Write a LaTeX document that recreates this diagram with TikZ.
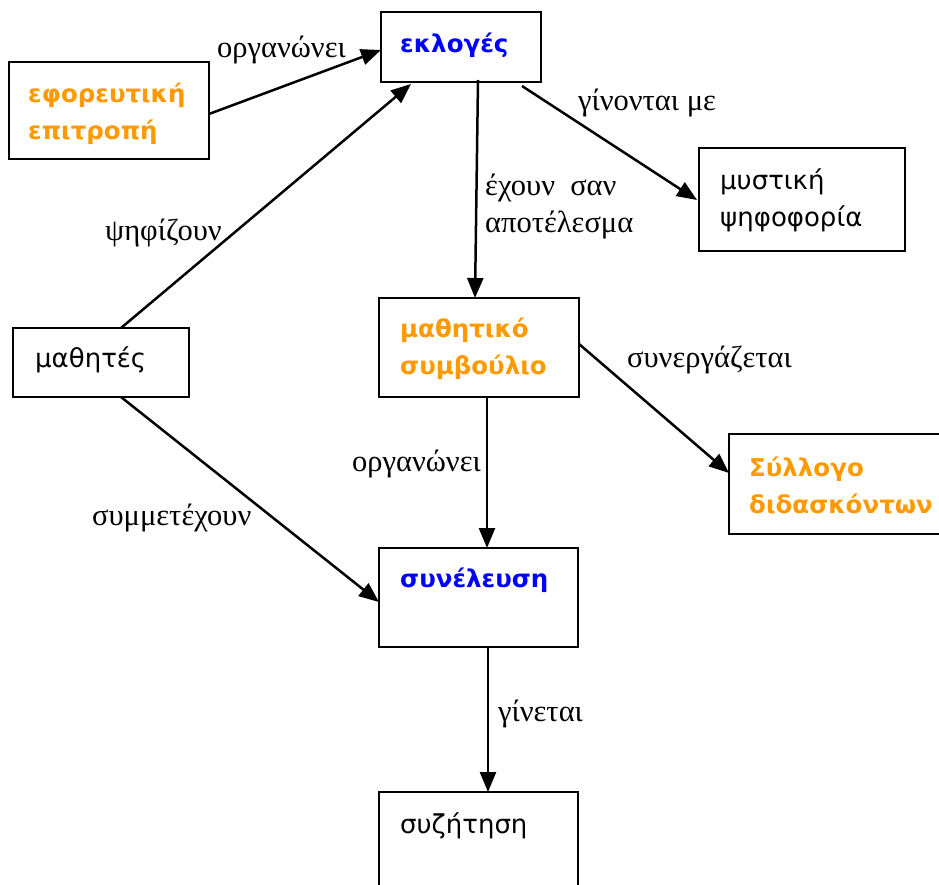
\documentclass[tikz,border=0pt]{standalone}
\usepackage{fontspec}
\setmainfont{Liberation Serif}
\newfontfamily\boxfont{DejaVu Sans}
\usetikzlibrary{arrows.meta}
\definecolor{orng}{RGB}{255,153,0}
\definecolor{blu}{RGB}{0,0,255}
\tikzset{
  box/.style={draw=black, line width=1.6pt, fill=white},
  btxt/.style={anchor=west, align=left, font=\boxfont\fontsize{26}{37}\selectfont, inner sep=0pt},
  otxt/.style={btxt, font=\boxfont\bfseries\fontsize{24.5}{37}\selectfont, text=orng},
  bltxt/.style={btxt, font=\boxfont\bfseries\fontsize{24.5}{37}\selectfont, text=blu},
  lbl/.style={anchor=west, align=left, font=\fontsize{30.5}{37}\selectfont, inner sep=0pt},
  arr/.style={line width=2.5pt, -{Triangle[length=20pt,width=16pt]}},
}
\begin{document}
\begin{tikzpicture}[x=1pt,y=-1pt]
\useasboundingbox (0,0) rectangle (939,885);
% boxes
\draw[box] (381,12) rectangle (541,82);
\draw[box] (9,62) rectangle (209,159);
\draw[box] (699,148) rectangle (905,251);
\draw[box] (13,328) rectangle (189,397);
\draw[box] (379,298) rectangle (579,397);
\draw[box] (729,434) rectangle (945,534);
\draw[box] (379,548) rectangle (578,647);
\draw[box] (379,792) rectangle (578,900);
% texts
\node[bltxt] (teklo) at (400,45) {εκλογές};
\node[otxt] (tefor) at (28,114) {εφορευτική\\επιτροπή};
\node[btxt] (tmyst) at (720,200) {μυστική\\ψηφοφορία};
\node[btxt] (tmath) at (35,360) {μαθητές};
\node[otxt] (tsymv) at (400,349) {μαθητικό\\συμβούλιο};
\node[otxt] (tsyll) at (749,485) {Σύλλογο\\διδασκόντων};
\node[bltxt] (tsyne) at (400,580) {συνέλευση};
\node[btxt] (tsyzi) at (400,826) {συζήτηση};
% connector endpoints
\coordinate (a1s) at (209,114); \coordinate (a1e) at (381,50);
\coordinate (a2s) at (121,328); \coordinate (a2e) at (411,84);
\coordinate (a3s) at (478,80);  \coordinate (a3e) at (475,298);
\coordinate (a4s) at (522,86);  \coordinate (a4e) at (697,200);
\coordinate (a5s) at (121,397); \coordinate (a5e) at (379,602);
\coordinate (a6s) at (487,397); \coordinate (a6e) at (487,548);
\coordinate (a7s) at (579,344); \coordinate (a7e) at (729,473);
\coordinate (a8s) at (488,647); \coordinate (a8e) at (488,792);
\draw[arr] (a1s) -- (a1e);
\draw[arr] (a2s) -- (a2e);
\draw[arr] (a3s) -- (a3e);
\draw[arr] (a4s) -- (a4e);
\draw[arr] (a5s) -- (a5e);
\draw[arr] (a6s) -- (a6e);
\draw[arr] (a7s) -- (a7e);
\draw[arr] (a8s) -- (a8e);
% labels
\node[lbl] (l1) at (217,50) {οργανώνει};
\node[lbl] (l2) at (105,233) {ψηφίζουν};
\node[lbl] (l3) at (485,207) {έχουν \ σαν\\αποτέλεσμα};
\node[lbl] (l4) at (578,103) {γίνονται με};
\node[lbl] (l5) at (92,518) {συμμετέχουν};
\node[lbl] (l6) at (352,464) {οργανώνει};
\node[lbl] (l7) at (627,360) {συνεργάζεται};
\node[lbl] (l8) at (498,714) {γίνεται};
\end{tikzpicture}
\end{document}
